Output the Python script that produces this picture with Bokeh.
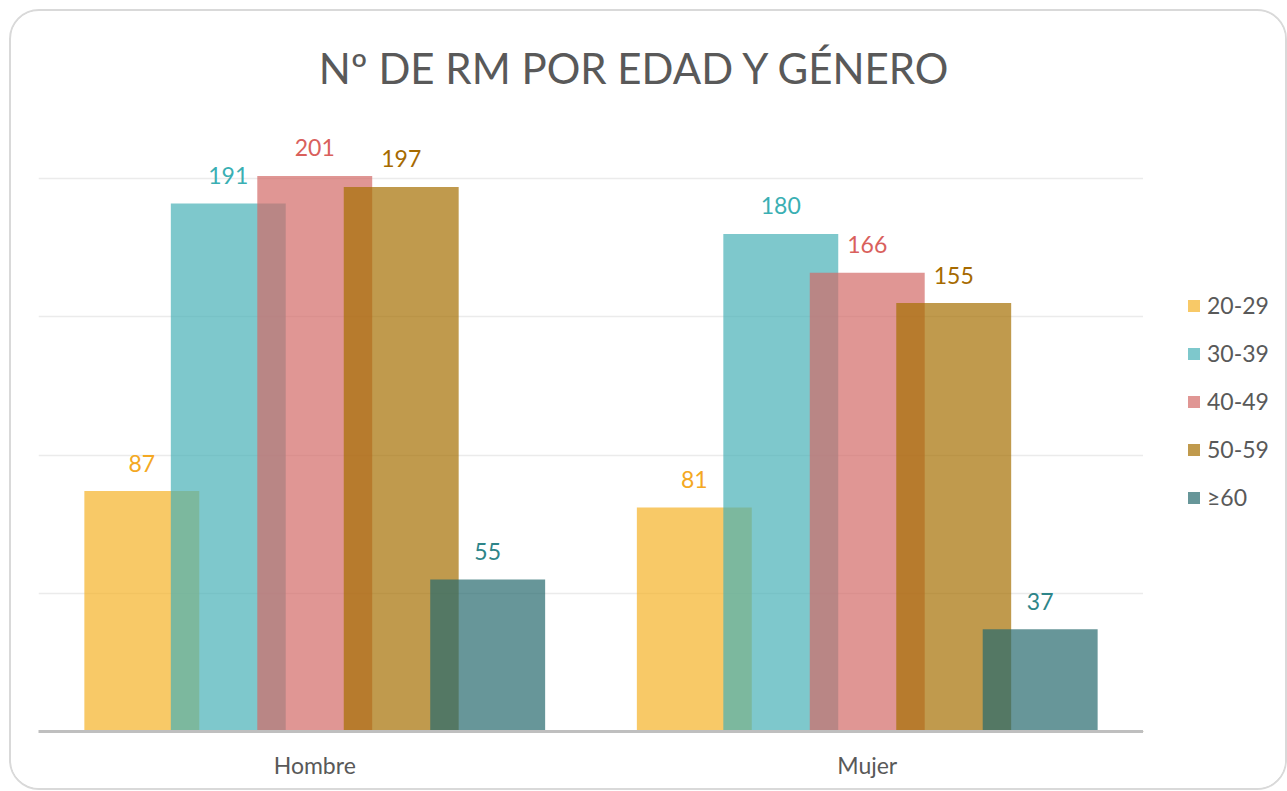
from bokeh.plotting import figure
from bokeh.layouts import row
from bokeh.models import ColumnDataSource, FactorRange, Range1d, FixedTicker, Legend, LegendItem, Label
from bokeh.transform import dodge
from bokeh.core.properties import value
from bokeh.embed import file_html
from bokeh.resources import INLINE

genders = ["Hombre", "Mujer"]
ages = ["20-29", "30-39", "40-49", "50-59", "≥60"]
v_20_29 = [87, 81]
v_30_39 = [191, 180]
v_40_49 = [201, 166]
v_50_59 = [197, 155]
v_60 = [55, 37]
series = [v_20_29, v_30_39, v_40_49, v_50_59, v_60]
bar_colors = ["#F5B227", "#47B0B6", "#D36966", "#A56F02", "#26696D"]
label_colors = ["#F4A822", "#3AAFB3", "#D9605C", "#A66A00", "#2E8589"]
title_text = "Nº DE RM POR EDAD Y GÉNERO"
FONT = "Lato"
TXT = "#595959"

H = 777
p = figure(x_range=FactorRange(*genders, range_padding=0), y_range=Range1d(0, 250),
           width=1132, height=H, output_backend="svg", toolbar_location=None,
           min_border_left=27, min_border_right=0, min_border_top=29, min_border_bottom=57)
p.outline_line_color = None
p.background_fill_color = None
p.border_fill_color = "white"

step = 0.1565
bw = 0.208
for i, (age, vals) in enumerate(zip(ages, series)):
    src = ColumnDataSource(dict(g=genders, v=vals, t=[str(x) for x in vals]))
    off = (i - 2) * step
    p.vbar(x=dodge("g", off, range=p.x_range), top="v", width=bw, source=src,
           fill_color=bar_colors[i], fill_alpha=0.7, line_color=None)
    p.text(x=dodge("g", off, range=p.x_range), y="v", text="t", source=src,
           text_align="center", text_baseline="alphabetic", y_offset=-28,
           text_font=value(FONT), text_font_size="23px", text_color=label_colors[i])

p.add_layout(Label(x=1.08, y=240, x_units="data", y_units="data", text=title_text,
                   text_align="center", text_baseline="alphabetic",
                   text_font=FONT, text_font_size="42px", text_color=TXT))

p.yaxis.visible = False
p.ygrid.ticker = FixedTicker(ticks=[50, 100, 150, 200, 250])
p.ygrid.grid_line_color = "#EBEBEB"
p.ygrid.grid_line_width = 1.5
p.xgrid.grid_line_color = None
p.xaxis.axis_line_color = "#BFBFBF"
p.xaxis.axis_line_width = 3
p.xaxis.major_tick_line_color = None
p.xaxis.minor_tick_line_color = None
p.xaxis.major_label_standoff = 13
p.xaxis.major_label_text_font = FONT
p.xaxis.major_label_text_font_size = "23px"
p.xaxis.major_label_text_color = TXT

# legend panel
lf = figure(x_range=Range1d(0, 1), y_range=Range1d(0, 1), width=142, height=H,
            output_backend="svg", toolbar_location=None,
            min_border_left=0, min_border_right=0, min_border_top=0, min_border_bottom=0)
lf.axis.visible = False
lf.grid.visible = False
lf.outline_line_color = None
items = []
for i, age in enumerate(ages):
    # placeholder renderer outside the visible range, only used for the legend swatch
    r = lf.vbar(x=[-5], top=[-5], width=0.1, fill_color=bar_colors[i], fill_alpha=0.7, line_color=None)
    items.append(LegendItem(label=age, renderers=[r]))
legend = Legend(items=items, location=(43, 220), orientation="vertical",
                glyph_width=15, glyph_height=15, label_height=27, spacing=20,
                label_standoff=6, padding=0, margin=0,
                label_text_font=FONT, label_text_font_size="23px", label_text_color=TXT,
                border_line_color=None, background_fill_alpha=0)
lf.add_layout(legend, "center")

layout = row(p, lf)
layout.styles = {"border": "2px solid #D9D9D9", "border-radius": "30px",
                 "overflow": "hidden", "margin-left": "9px", "margin-top": "9px"}

open("out.html", "w").write(file_html(layout, INLINE))
